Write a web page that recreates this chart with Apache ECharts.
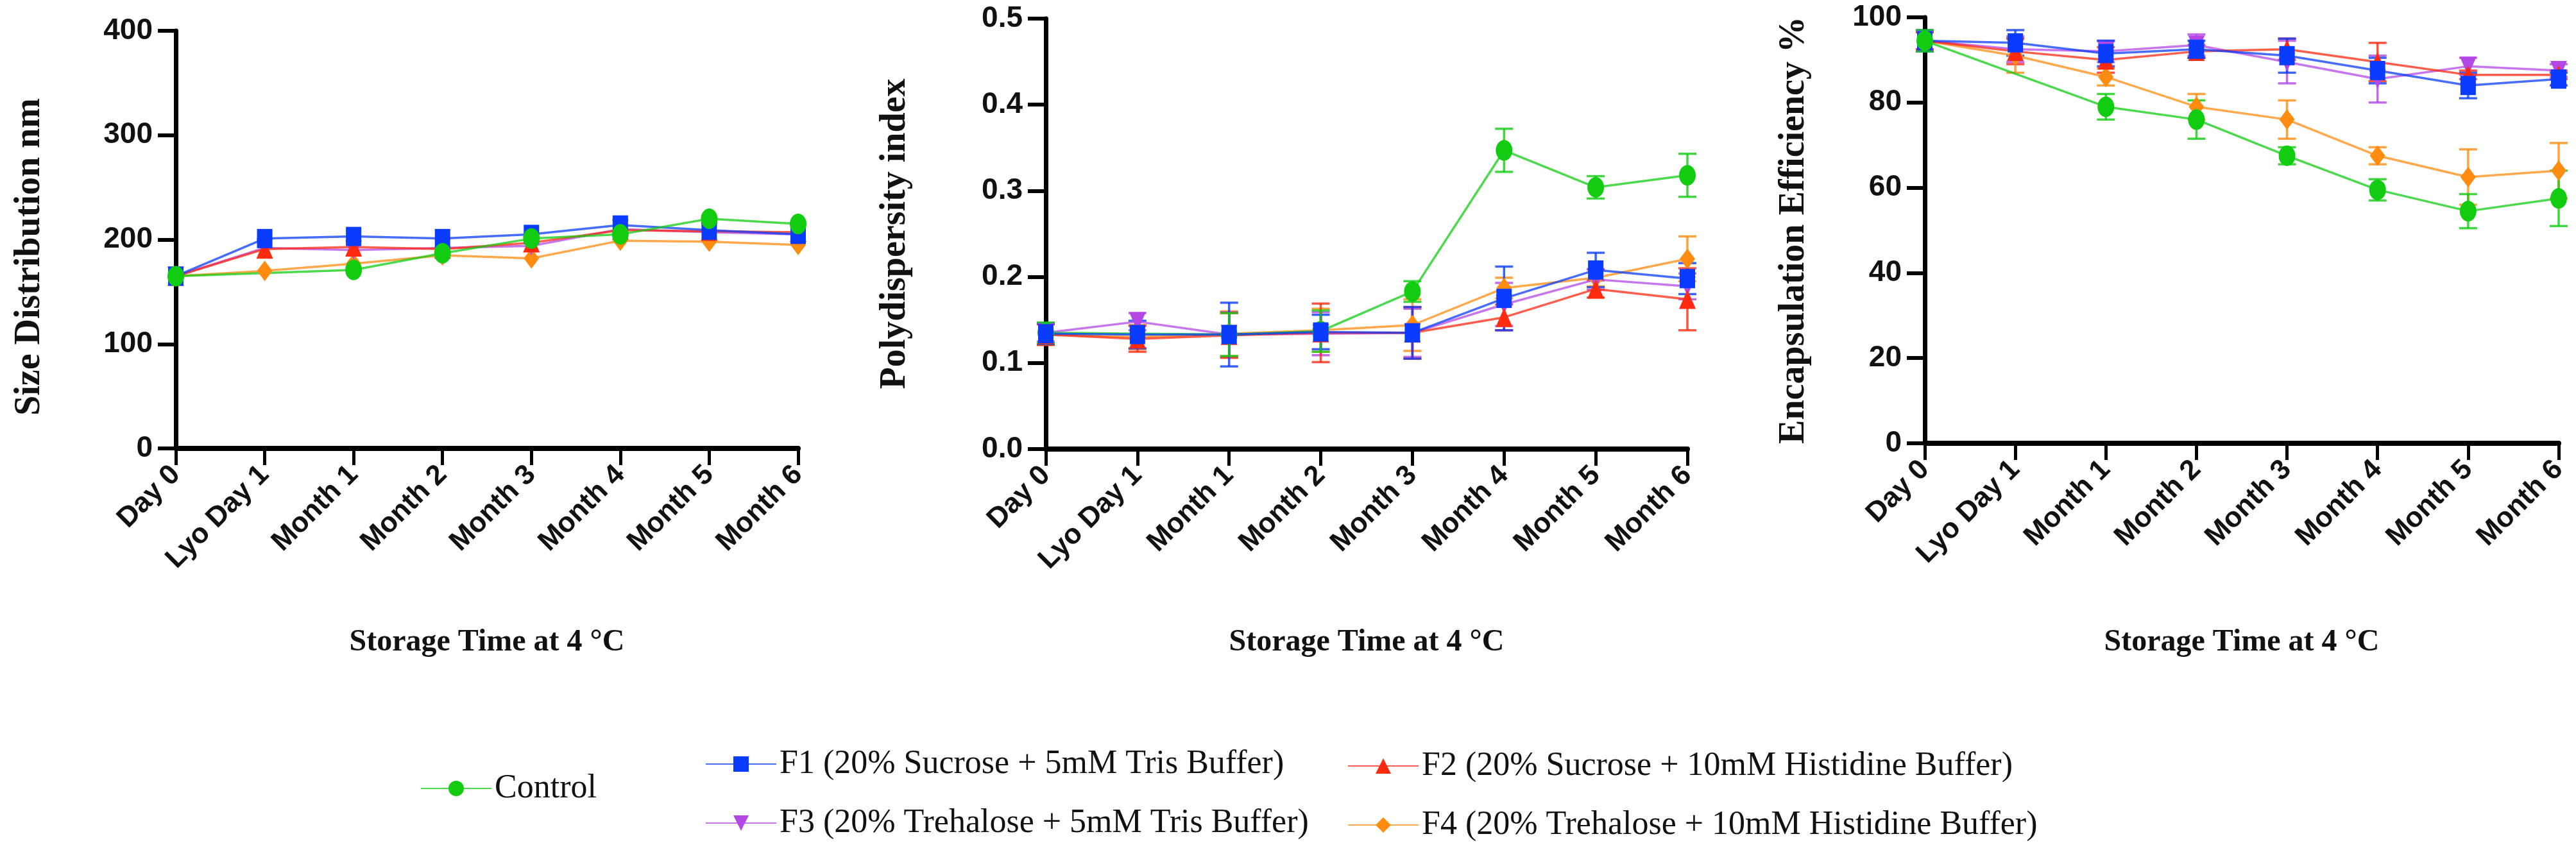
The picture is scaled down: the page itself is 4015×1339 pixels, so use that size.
<!DOCTYPE html>
<html>
<head>
<meta charset="UTF-8" />
<script src="https://cdn.jsdelivr.net/npm/echarts@6/dist/echarts.min.js"></script>
<style>
  body { margin: 0; background: #fff; }
  #chart { width: 4015px; height: 1339px; }
</style>
</head>
<body>
<div id="chart"></div>
<script>
// categories (storage time)
var categories = ['Day 0', 'Lyo Day 1', 'Month 1', 'Month 2', 'Month 3', 'Month 4', 'Month 5', 'Month 6']

var names = [
  'Control',
  'F1 (20% Sucrose + 5mM Tris Buffer)',
  'F2 (20% Sucrose + 10mM Histidine Buffer)',
  'F3 (20% Trehalose + 5mM Tris Buffer)',
  'F4 (20% Trehalose + 10mM Histidine Buffer)'
]

// size distribution, nm (control was not lyophilised -> no Lyo Day 1 point)
var sizeControl = [165, null, 171, 187, 201, 205, 220, 215]
var sizeF1 = [165, 201, 203, 201, 205, 214, 209, 205]
var sizeF2 = [165, 191, 193, 191, 197, 209, 208, 207]
var sizeF3 = [165, 192, 190, 192, 194, 210, 207, 205]
var sizeF4 = [165, 170, 177, 185, 182, 199, 198, 195]

// polydispersity index + SD
var pdiControl = [0.135, null, 0.133, 0.137, 0.183, 0.347, 0.304, 0.318]
var pdiControlErr = [0.012, null, 0.025, 0.024, 0.012, 0.025, 0.013, 0.025]
var pdiF1 = [0.134, 0.133, 0.133, 0.136, 0.135, 0.175, 0.208, 0.198]
var pdiF1Err = [0.012, 0.016, 0.037, 0.02, 0.03, 0.037, 0.02, 0.018]
var pdiF2 = [0.133, 0.128, 0.132, 0.135, 0.135, 0.153, 0.186, 0.174]
var pdiF2Err = [0.012, 0.015, 0.026, 0.034, 0.03, 0.015, 0.01, 0.036]
var pdiF3 = [0.135, 0.148, 0.133, 0.134, 0.135, 0.168, 0.197, 0.189]
var pdiF3Err = [0.01, 0.01, 0.026, 0.025, 0.028, 0.025, 0.012, 0.015]
var pdiF4 = [0.133, 0.13, 0.134, 0.138, 0.144, 0.187, 0.199, 0.221]
var pdiF4Err = [0.012, 0.014, 0.026, 0.025, 0.03, 0.012, 0.01, 0.026]

// encapsulation efficiency % + SD
var eeControl = [94.5, null, 79, 76, 67.5, 59.5, 54.5, 57.5]
var eeControlErr = [2.5, null, 3, 4.5, 2, 2.5, 4, 6.5]
var eeF1 = [94.5, 94, 91.5, 92.5, 91, 87.5, 84, 85.5]
var eeF1Err = [2.5, 3, 3, 2, 4, 3, 3, 1.5]
var eeF2 = [94.5, 92, 90, 92, 92.5, 89.5, 86.5, 86.5]
var eeF2Err = [2, 3, 3, 1.5, 2.5, 4.5, 1, 1]
var eeF3 = [94.5, 92.5, 92, 93.5, 89.5, 85.5, 88.5, 87.5]
var eeF3Err = [2, 3, 2.5, 2.5, 5, 5.5, 2, 1.5]
var eeF4 = [94.5, 91, 86, 79, 76, 67.5, 62.5, 64]
var eeF4Err = [2, 4, 2, 3, 4.5, 2, 6.5, 6.5]

var colors = ['#11cc11', '#0a3cff', '#ff2a10', '#b448e6', '#ff8c10']
var symbols = ['circle', 'rect', 'triangle', 'triangle', 'diamond']
var symbolRot = [0, 0, 0, 180, 0]
var symbolSizes = [[26, 32], [24, 30], [26, 30], [26, 30], [24, 32]]

var sans = "'Liberation Sans', Arial, sans-serif"
var serif = "'Liberation Serif', 'Times New Roman', serif"

var grids = [
  { left: 274, right: 2771, top: 48, bottom: 640 },
  { left: 1630, right: 1385, top: 29, bottom: 639 },
  { left: 3000, right: 27, top: 27, bottom: 648 }
]

var yDefs = [
  { name: 'Size Distribution nm', min: 0, max: 400, interval: 100, gap: 199, pad: [0, 54, 0, 0], fmt: null },
  { name: 'Polydispersity index', min: 0, max: 0.5, interval: 0.1, gap: 206, pad: 0, fmt: function (v) { return v.toFixed(1) } },
  { name: 'Encapsulation Efficiency %', min: 0, max: 100, interval: 20, gap: 175, pad: 0, fmt: null }
]
var xNameGaps = [279, 278, 287]

var xAxes = grids.map(function (g, i) {
  return {
    type: 'category',
    gridIndex: i,
    data: categories,
    boundaryGap: false,
    name: 'Storage Time at 4 °C',
    nameLocation: 'middle',
    nameGap: xNameGaps[i],
    nameTextStyle: { fontFamily: serif, fontWeight: 'bold', fontSize: 48, color: '#111' },
    axisLine: { lineStyle: { color: '#000', width: 8 } },
    axisTick: { alignWithLabel: true, length: 26, lineStyle: { color: '#000', width: 5 } },
    axisLabel: {
      rotate: 45, margin: 34, interval: 0,
      fontFamily: sans, fontWeight: 'bold', fontSize: 44, color: '#111'
    },
    splitLine: { show: false }
  }
})

var yAxes = yDefs.map(function (d, i) {
  return {
    type: 'value',
    gridIndex: i,
    min: d.min, max: d.max, interval: d.interval,
    name: d.name,
    nameLocation: 'middle',
    nameRotate: 90,
    nameGap: d.gap,
    nameTextStyle: { fontFamily: serif, fontWeight: 'bold', fontSize: 56, color: '#111', padding: d.pad },
    axisLine: { show: true, lineStyle: { color: '#000', width: 7 } },
    axisTick: { show: true, length: 28, lineStyle: { color: '#000', width: 6 } },
    axisLabel: {
      margin: 36, fontFamily: sans, fontWeight: 'bold', fontSize: 46, color: '#111',
      formatter: d.fmt
    },
    splitLine: { show: false }
  }
})

var sizeSets = [sizeControl, sizeF1, sizeF2, sizeF3, sizeF4]
var pdiSets = [pdiControl, pdiF1, pdiF2, pdiF3, pdiF4]
var pdiErrs = [pdiControlErr, pdiF1Err, pdiF2Err, pdiF3Err, pdiF4Err]
var eeSets = [eeControl, eeF1, eeF2, eeF3, eeF4]
var eeErrs = [eeControlErr, eeF1Err, eeF2Err, eeF3Err, eeF4Err]

function lineSeries(k, axis, data) {
  return {
    name: names[k],
    type: 'line',
    xAxisIndex: axis, yAxisIndex: axis,
    data: data,
    connectNulls: true,
    symbol: symbols[k],
    symbolRotate: symbolRot[k],
    symbolSize: symbolSizes[k],
    itemStyle: { color: colors[k] },
    lineStyle: { color: colors[k], width: 3.5, opacity: 0.75 },
    z: 3
  }
}

function errSeries(k, axis, vals, errs) {
  var d = []
  vals.forEach(function (v, i) {
    if (v != null && errs[i] != null) d.push([i, v, errs[i]])
  })
  return {
    name: names[k],
    type: 'custom',
    xAxisIndex: axis, yAxisIndex: axis,
    data: d,
    z: 2,
    renderItem: function (params, api) {
      var i = api.value(0), v = api.value(1), e = api.value(2)
      var hi = api.coord([i, v + e])
      var lo = api.coord([i, v - e])
      var w = 14
      var st = { stroke: colors[k], lineWidth: 3.5, opacity: 0.8 }
      return {
        type: 'group',
        children: [
          { type: 'line', shape: { x1: hi[0], y1: hi[1], x2: lo[0], y2: lo[1] }, style: st },
          { type: 'line', shape: { x1: hi[0] - w, y1: hi[1], x2: hi[0] + w, y2: hi[1] }, style: st },
          { type: 'line', shape: { x1: lo[0] - w, y1: lo[1], x2: lo[0] + w, y2: lo[1] }, style: st }
        ]
      }
    }
  }
}

var series = []
var drawOrder = [4, 3, 2, 1, 0]
drawOrder.forEach(function (k) { series.push(lineSeries(k, 0, sizeSets[k])) })
;[4, 3, 2, 0, 1].forEach(function (k) { series.push(lineSeries(k, 1, pdiSets[k])) })
drawOrder.forEach(function (k) { series.push(lineSeries(k, 2, eeSets[k])) })
drawOrder.forEach(function (k) { series.push(errSeries(k, 1, pdiSets[k], pdiErrs[k])) })
drawOrder.forEach(function (k) { series.push(errSeries(k, 2, eeSets[k], eeErrs[k])) })

var legendText = { fontFamily: serif, fontSize: 52, color: '#111' }
var legendBase = { itemWidth: 110, itemHeight: 30, itemGap: 40, textStyle: legendText, orient: 'vertical', selectedMode: false }

var option = {
  animation: false,
  backgroundColor: '#fff',
  grid: grids,
  xAxis: xAxes,
  yAxis: yAxes,
  legend: [
    Object.assign({}, legendBase, { data: [names[0]], left: 650, top: 1198 }),
    Object.assign({}, legendBase, { data: [names[1], names[3]], left: 1094, top: 1160 }),
    Object.assign({}, legendBase, { data: [names[2], names[4]], left: 2095, top: 1163 })
  ],
  series: series
}

var chart = echarts.init(document.getElementById('chart'))
chart.setOption(option)
</script>
</body>
</html>
